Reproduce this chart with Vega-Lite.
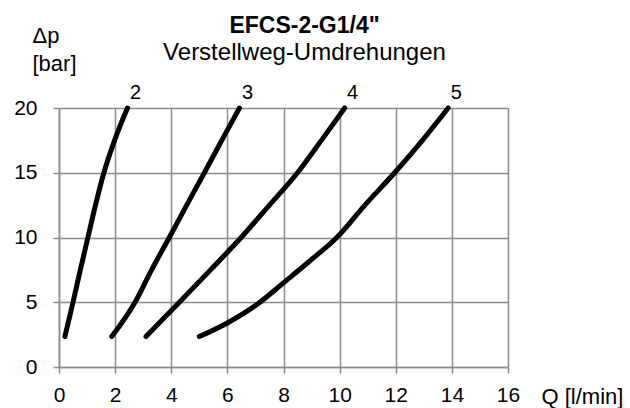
{
  "$schema": "https://vega.github.io/schema/vega-lite/v6.json",
  "autosize": {"type": "none"},
  "width": 449,
  "height": 259,
  "padding": {"left": 59, "top": 108, "right": 122, "bottom": 41},
  "background": "white",
  "config": {
    "font": "Liberation Sans",
    "view": {"stroke": null},
    "axis": {"labelFont": "Liberation Sans", "titleFont": "Liberation Sans"}
  },
  "title": {
    "text": "EFCS-2-G1/4\"",
    "subtitle": "Verstellweg-Umdrehungen",
    "anchor": "middle",
    "frame": "group",
    "dx": 21,
    "offset": -41,
    "font": "Liberation Sans",
    "fontSize": 23,
    "fontWeight": "bold",
    "color": "black",
    "subtitleFont": "Liberation Sans",
    "subtitleFontSize": 24,
    "subtitleColor": "black",
    "subtitlePadding": 3
  },
  "data": {
    "values": [
      {"series": "2", "q": 0.21, "dp": 2.35},
      {"series": "2", "q": 0.5, "dp": 5},
      {"series": "2", "q": 0.76, "dp": 7.5},
      {"series": "2", "q": 1.03, "dp": 10},
      {"series": "2", "q": 1.3, "dp": 12.5},
      {"series": "2", "q": 1.6, "dp": 15},
      {"series": "2", "q": 1.98, "dp": 17.5},
      {"series": "2", "q": 2.44, "dp": 20},
      {"series": "3", "q": 1.88, "dp": 2.35},
      {"series": "3", "q": 2.71, "dp": 5},
      {"series": "3", "q": 3.3, "dp": 7.5},
      {"series": "3", "q": 3.93, "dp": 10},
      {"series": "3", "q": 4.55, "dp": 12.5},
      {"series": "3", "q": 5.18, "dp": 15},
      {"series": "3", "q": 5.8, "dp": 17.5},
      {"series": "3", "q": 6.43, "dp": 20},
      {"series": "4", "q": 3.1, "dp": 2.35},
      {"series": "4", "q": 4.29, "dp": 5},
      {"series": "4", "q": 5.4, "dp": 7.5},
      {"series": "4", "q": 6.49, "dp": 10},
      {"series": "4", "q": 7.5, "dp": 12.5},
      {"series": "4", "q": 8.5, "dp": 15},
      {"series": "4", "q": 9.35, "dp": 17.5},
      {"series": "4", "q": 10.18, "dp": 20},
      {"series": "5", "q": 5.0, "dp": 2.35},
      {"series": "5", "q": 6.0, "dp": 3.4},
      {"series": "5", "q": 7.1, "dp": 4.9},
      {"series": "5", "q": 8.0, "dp": 6.5},
      {"series": "5", "q": 9.0, "dp": 8.3},
      {"series": "5", "q": 9.9, "dp": 10},
      {"series": "5", "q": 10.9, "dp": 12.5},
      {"series": "5", "q": 11.96, "dp": 15},
      {"series": "5", "q": 12.95, "dp": 17.5},
      {"series": "5", "q": 13.87, "dp": 20}
    ]
  },
  "encoding": {
    "x": {
      "field": "q", "type": "quantitative",
      "scale": {"domain": [0, 16], "nice": false, "zero": false},
      "axis": {
        "values": [0, 2, 4, 6, 8, 10, 12, 14, 16],
        "title": "Q [l/min]",
        "titleX": 482, "titleY": 36,
        "titleAlign": "left", "titleBaseline": "alphabetic",
        "titleFontSize": 22, "titleFontWeight": "normal", "titleColor": "black",
        "labelFontSize": 21, "labelColor": "black", "labelPadding": 11,
        "labelFlush": false,
        "grid": true, "gridColor": "#8c8c8c", "gridWidth": 1.5,
        "domainColor": "#8c8c8c", "domainWidth": 1.5,
        "tickColor": "#8c8c8c", "tickWidth": 1.5, "tickSize": 6
      }
    },
    "y": {
      "field": "dp", "type": "quantitative",
      "scale": {"domain": [0, 20], "nice": false, "zero": false},
      "axis": {
        "values": [0, 5, 10, 15, 20],
        "title": ["Δp", "[bar]"],
        "titleAngle": 0, "titleX": -27, "titleY": -66,
        "titleAlign": "left", "titleBaseline": "alphabetic",
        "titleLineHeight": 28,
        "titleFontSize": 22, "titleFontWeight": "normal", "titleColor": "black",
        "labelFontSize": 21, "labelColor": "black", "labelPadding": 16,
        "labelFlush": false,
        "grid": true, "gridColor": "#8c8c8c", "gridWidth": 1.5,
        "domainColor": "#8c8c8c", "domainWidth": 1.5,
        "tickColor": "#8c8c8c", "tickWidth": 1.5, "tickSize": 6
      }
    }
  },
  "layer": [
    {
      "mark": {"type": "line", "interpolate": "monotone", "color": "black", "strokeWidth": 5, "strokeCap": "round"},
      "encoding": {"detail": {"field": "series"}}
    },
    {
      "transform": [{"filter": "datum.dp == 20"}],
      "mark": {"type": "text", "fontSize": 20, "color": "black", "dx": 8, "dy": -9, "baseline": "alphabetic", "align": "center"},
      "encoding": {"text": {"field": "series"}}
    }
  ]
}
